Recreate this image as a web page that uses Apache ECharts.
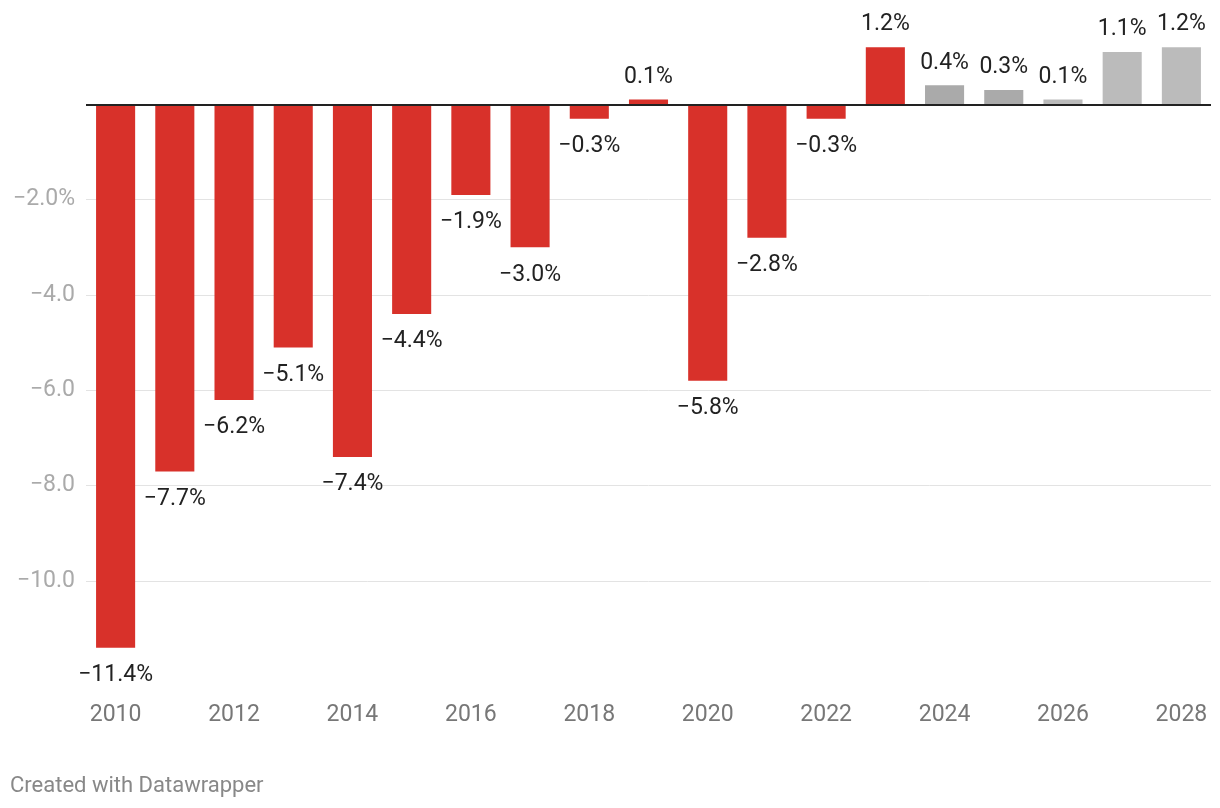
<!DOCTYPE html>
<html>
<head>
<meta charset="utf-8">
<script src="https://cdn.jsdelivr.net/npm/echarts@6/dist/echarts.min.js"></script>
<style>
html,body{margin:0;padding:0;background:#fff;}
#chart{width:1220px;height:808px;}
</style>
</head>
<body>
<div id="chart"></div>
<script>
const years = ['2010','2011','2012','2013','2014','2015','2016','2017','2018','2019','2020','2021','2022','2023','2024','2025','2026','2027','2028'];
const values = [-11.4,-7.7,-6.2,-5.1,-7.4,-4.4,-1.9,-3.0,-0.3,0.1,-5.8,-2.8,-0.3,1.2,0.4,0.3,0.1,1.1,1.2];
const groups = ['a','a','a','a','a','a','a','a','a','a','a','a','a','a','b','b','c','c','c'];
const yTicks = [-12,-10,-8,-6,-4,-2,0,2];

const groupColor = {a:'#d8312a', b:'#aaaaaa', c:'#bbbbbb'};
const fmt = v => (v < 0 ? '\u2212' : '') + Math.abs(v).toFixed(1);

const chart = echarts.init(document.getElementById('chart'), null, {renderer:'canvas'});
const FONT = 'Roboto, "Noto Sans", sans-serif';

chart.setOption({
  animation:false,
  grid:{left:86, right:9, top:9, bottom:131.6, containLabel:false},
  xAxis:{
    type:'category',
    data:years,
    axisLine:{show:false},
    axisTick:{show:false},
    axisLabel:{interval:1, margin:27, color:'#777', fontSize:23, fontFamily:FONT},
    splitLine:{show:false}
  },
  yAxis:{
    type:'value',
    min:yTicks[0], max:yTicks[yTicks.length-1], interval:2,
    axisLine:{show:false},
    axisTick:{show:false},
    axisLabel:{
      margin:11, color:'#aaa', fontSize:23, fontFamily:FONT,
      formatter: v => (v===0 || v===-12 || v===2) ? '' : (v===-2 ? fmt(v)+'%' : fmt(v))
    },
    splitLine:{show:true, lineStyle:{width:1, color: yTicks.map(t => (t===-12||t>=0) ? 'rgba(0,0,0,0)' : '#e3e3e3')}}
  },
  series:[{
    type:'bar',
    barCategoryGap:'34%',
    data: values.map((v,i) => ({
      value:v,
      itemStyle:{color:groupColor[groups[i]]},
      label:{show:true, position: v<0 ? 'bottom' : 'top', distance: v<0 ? 16 : 11,
        formatter: () => fmt(v)+'%', color:'#222', fontSize:23, fontFamily:FONT}
    })),
    markLine:{
      silent:true, symbol:'none',
      label:{show:false},
      lineStyle:{color:'#222', width:2, type:'solid'},
      data:[{yAxis:0}]
    }
  }],
  graphic:[{
    type:'text', left:10, top:775,
    style:{text:'Created with Datawrapper', fill:'#888', fontSize:22, fontFamily:FONT}
  }]
});
</script>
</body>
</html>
